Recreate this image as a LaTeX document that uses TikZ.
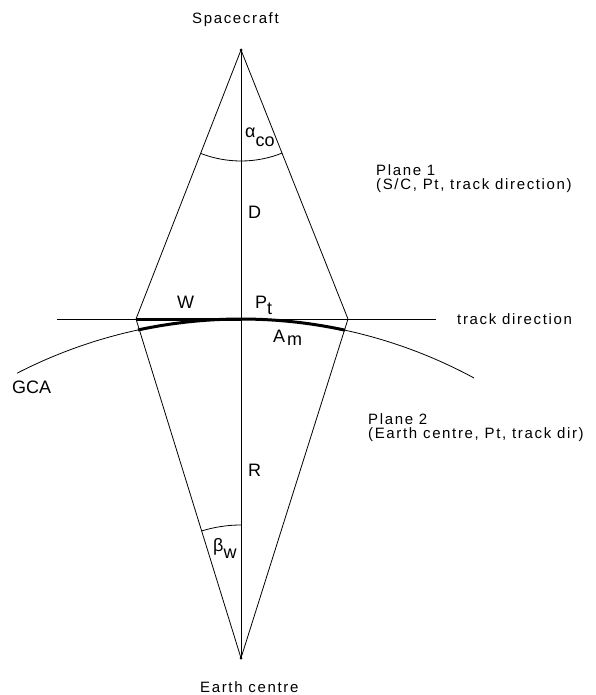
\documentclass[tikz,border=0pt]{standalone}
\usepackage{fontspec}
\setmainfont{Liberation Sans}
\newfontfamily\spaced[LetterSpace=11]{Liberation Sans}
\begin{document}
\begin{tikzpicture}[x=1pt,y=1pt,
  edge/.style={line width=0.8pt},
  bold/.style={line width=3pt},
  txt/.style={font=\fontsize{15}{13.5}\spaced, inner sep=0pt, anchor=base west, align=left},
  lab/.style={font=\fontsize{18}{20}\selectfont, inner sep=0pt, anchor=base west}]
\useasboundingbox (0,0) rectangle (595,-695);
\coordinate (S) at (241,-50);
\coordinate (E) at (241,-658);
\coordinate (L) at (136,-319);
\coordinate (Rv) at (348,-319);
\coordinate (Pt) at (241,-319);
\coordinate (T1) at (57,-319);
\coordinate (T2) at (436,-319);
\coordinate (C) at (241,-809);
% frame lines
\draw[edge] (S) -- (L) -- (E) -- (Rv) -- cycle;
\draw[edge] (S) -- (E);
\draw[edge] (T1) -- (T2);
% great circle arc
\draw[edge] (C) ++(117.19:490) arc[start angle=117.19,end angle=61.6,radius=490];
% thick W and A_m
\draw[bold] (L) -- (Pt);
\draw[bold] (C) ++(102.13:490) arc[start angle=102.13,end angle=77.75,radius=490];
% angle arcs
\draw[edge] (S) ++(248.68:111) arc[start angle=248.68,end angle=291.7,radius=111];
\draw[edge] (E) ++(90:133) arc[start angle=90,end angle=107.21,radius=133];
\fill (S) circle (1.5);
\fill (E) circle (1.5);
% texts
\node[txt] (sc) at (192,-23.5) {Spacecraft};
\node[txt] (ec) at (200,-692) {Earth centre};
\node[txt] (td) at (457,-324) {track direction};
\node[txt] (p1) at (376,-189) {Plane 1\\(S/C, Pt, track direction)};
\node[txt] (p2) at (368,-438) {Plane 2\\(Earth centre, Pt, track dir)};
\node[lab] (alpha) at (245,-138) {α\raisebox{-9pt}{co}};
\node[lab] (D) at (248,-218) {D};
\node[lab] (W) at (177,-308) {W};
\node[lab] (P) at (255,-308) {P\raisebox{-6pt}{t}};
\node[lab] (Am) at (273,-342) {A\kern2pt\raisebox{-3pt}{m}};
\node[lab] (gca) at (12,-393) {GCA};
\node[lab] (Rl) at (248,-476) {R};
\node[lab] (beta) at (213,-551) {β\raisebox{-7pt}{w}};
\end{tikzpicture}
\end{document}
